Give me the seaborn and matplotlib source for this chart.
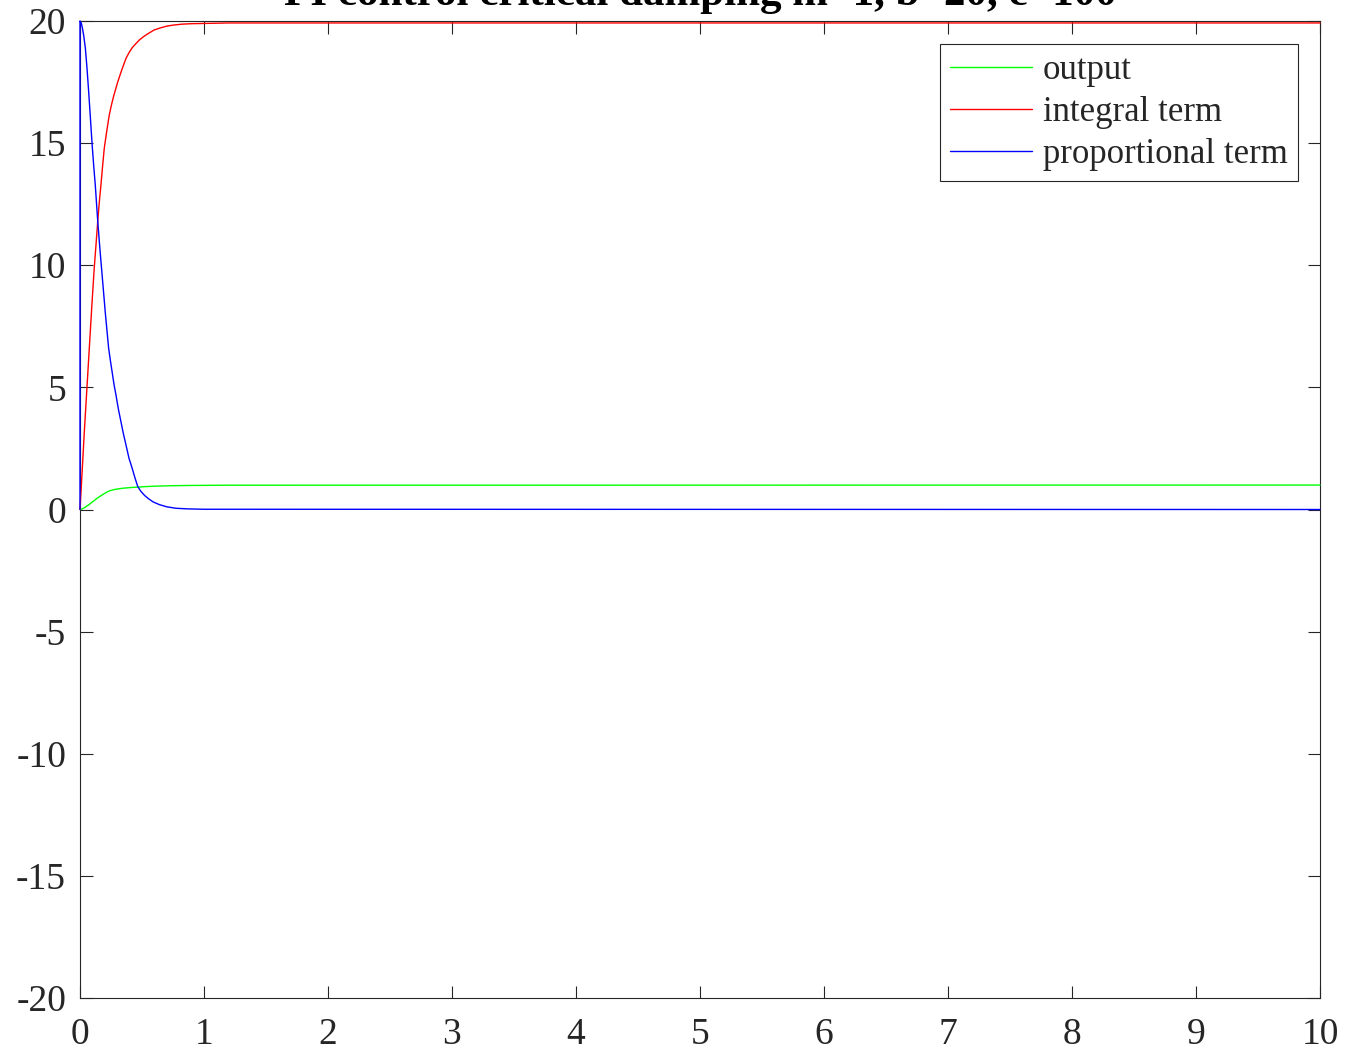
import matplotlib
matplotlib.use("Agg")
import matplotlib.pyplot as plt
import numpy as np
import pandas as pd
import seaborn as sns

# Step response of the PI-controlled mass-spring-damper (critically damped)
t_output = [0, 0.02, 0.035, 0.055, 0.075, 0.095, 0.115, 0.135, 0.156, 0.176, 0.196, 0.216, 0.236,
            0.263, 0.29, 0.317, 0.344, 0.377, 0.41, 0.444, 0.478, 0.52, 0.56, 0.6, 0.64, 0.7,
            0.75, 0.82, 0.9, 1.05, 1.2, 10]
output = [0, 0.03, 0.07, 0.14, 0.21, 0.29, 0.37, 0.45, 0.52, 0.59, 0.65, 0.71, 0.76,
          0.80, 0.83, 0.85, 0.87, 0.885, 0.90, 0.91, 0.92, 0.935, 0.945, 0.953, 0.96, 0.968,
          0.975, 0.98, 0.985, 0.99, 0.995, 1.0]

t_integral = [0, 0.02, 0.035, 0.055, 0.075, 0.095, 0.115, 0.13, 0.143, 0.156, 0.169, 0.183, 0.196,
              0.216, 0.236, 0.253, 0.27, 0.287, 0.304, 0.337, 0.371, 0.395, 0.42, 0.45, 0.478,
              0.51, 0.545, 0.597, 0.65, 0.7, 0.748, 0.82, 0.9, 1.0, 1.2, 10]
integral = [0, 1.8, 3.2, 4.9, 6.6, 8.3, 9.9, 10.9, 11.8, 12.6, 13.3, 14.1, 14.8,
            15.5, 16.15, 16.55, 16.9, 17.2, 17.5, 18.0, 18.47, 18.7, 18.9, 19.07, 19.22,
            19.35, 19.47, 19.63, 19.72, 19.79, 19.83, 19.87, 19.89, 19.9, 19.92, 19.92]

t_prop = [0, 0, 0.01, 0.02, 0.03, 0.043, 0.056, 0.07, 0.083, 0.097, 0.11, 0.123, 0.143, 0.16, 0.18,
          0.205, 0.231, 0.245, 0.26, 0.275, 0.29, 0.31, 0.33, 0.35, 0.371, 0.395, 0.42, 0.443,
          0.465, 0.49, 0.52, 0.55, 0.59, 0.64, 0.7, 0.774, 0.87, 1.0, 10]
proportional = [0, 20, 19.92, 19.7, 19.4, 18.9, 18.1, 17.1, 16.1, 15.0, 14.1, 13.3, 11.8, 10.7, 9.5,
                8.0, 6.6, 6.1, 5.6, 5.1, 4.69, 4.1, 3.6, 3.1, 2.64, 2.1, 1.7, 1.3,
                0.95, 0.75, 0.58, 0.45, 0.31, 0.2, 0.11, 0.05, 0.025, 0.01, 0]

series_names = ["output", "integral term", "proportional term"]
series_colors = ["#00ff00", "#ff0000", "#0000ff"]

x_ticks = list(range(0, 11))
y_ticks = [-20, -15, -10, -5, 0, 5, 10, 15, 20]
title_text = "PI control critical damping m=1, b=20, c=100"

frames = []
for name, tt, vv in zip(series_names, [t_output, t_integral, t_prop], [output, integral, proportional]):
    frames.append(pd.DataFrame({"t": tt, "value": vv, "series": name}))
df = pd.concat(frames, ignore_index=True)

sns.set_theme(style="white")
plt.rcParams["font.family"] = ["Liberation Serif", "DejaVu Serif"]
plt.rcParams["axes.unicode_minus"] = False

fig = plt.figure(figsize=(13.48, 10.56), dpi=100)
ax = fig.add_axes([80 / 1348, 1 - 998 / 1056, 1240 / 1348, 977 / 1056])

sns.lineplot(data=df, x="t", y="value", hue="series", hue_order=series_names,
             palette=series_colors, estimator=None, sort=True, linewidth=1.0, ax=ax)
for line in ax.get_lines():
    line.set_zorder(3)
    line.set_clip_on(False)

ax.set_xlim(0, 10)
ax.set_ylim(-20, 20)
ax.set_xticks(x_ticks)
ax.set_yticks(y_ticks)
ax.set_xticklabels([str(v) for v in x_ticks])
ax.set_yticklabels([str(v) for v in y_ticks])
ax.set_xlabel("")
ax.set_ylabel("")

edge = "#262626"
for sp in ax.spines.values():
    sp.set_visible(True)
    sp.set_color(edge)
    sp.set_linewidth(0.8)
ax.tick_params(axis="both", which="both", direction="in", length=9, width=0.8,
               color=edge, labelcolor=edge, labelsize=27,
               top=True, right=True, bottom=True, left=True)
ax.tick_params(axis="x", pad=14)
ax.tick_params(axis="y", pad=10)

leg = ax.legend(loc="upper right", bbox_to_anchor=(1298 / 1348, 1 - 44 / 1056),
                bbox_transform=fig.transFigure, fontsize=25, frameon=True,
                fancybox=False, edgecolor=edge, framealpha=1, handlelength=2.36,
                handletextpad=0.3, borderpad=0.3, labelspacing=0.25,
                borderaxespad=0)
leg.get_frame().set_linewidth(0.8)
for line in leg.get_lines():
    line.set_linewidth(1.0)

fig.text(700 / 1348, 1 - 5 / 1056, title_text, ha="center", va="baseline",
         fontsize=31, fontweight="bold", color="black")

fig.savefig("out.png", dpi=100, facecolor="white")
